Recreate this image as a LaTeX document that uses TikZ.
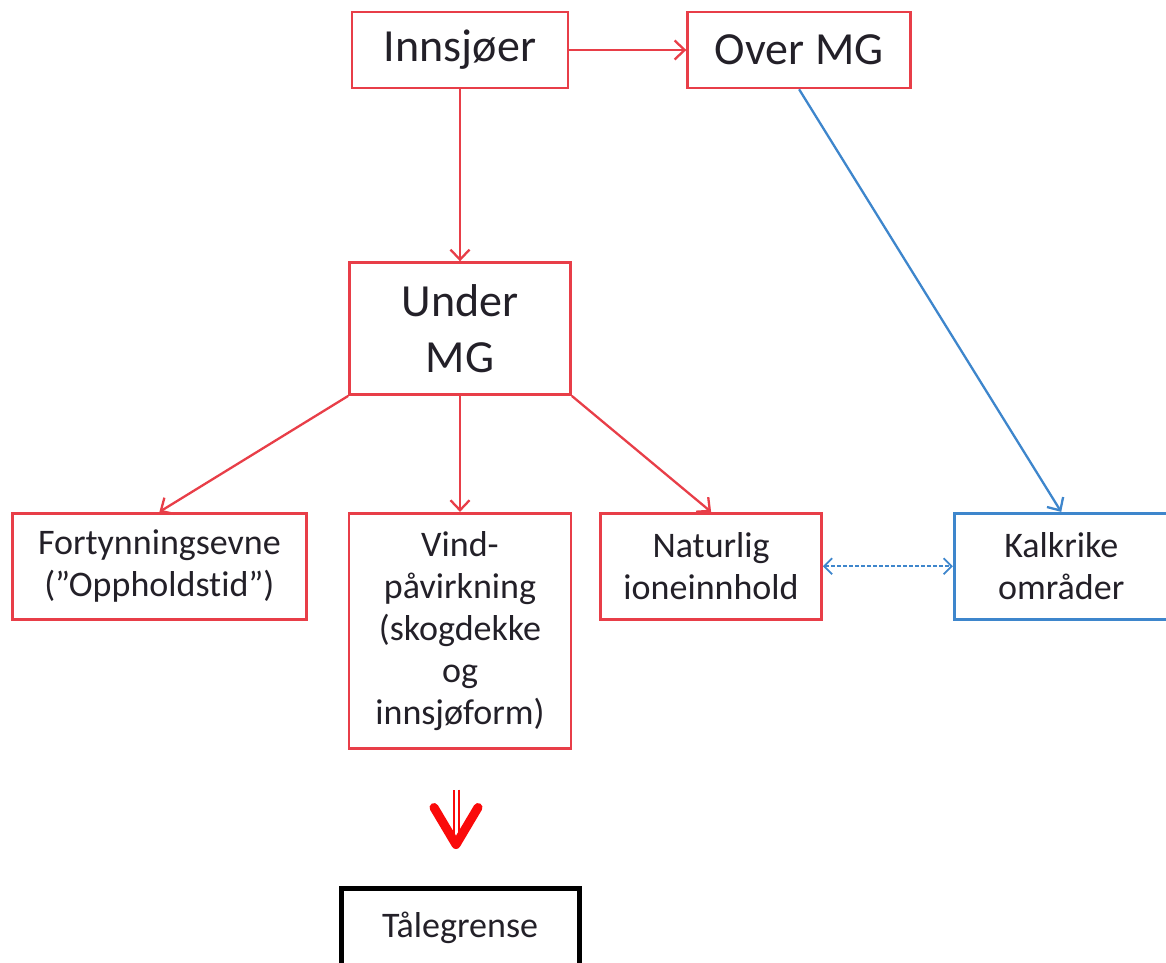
\documentclass[tikz,border=0pt]{standalone}
\usepackage{fontspec}
\setmainfont[Ligatures=NoCommon]{Carlito}
\usepackage{tikz}
\usetikzlibrary{positioning,arrows.meta}
\definecolor{mgred}{RGB}{232,62,72}
\definecolor{mgblue}{RGB}{62,134,204}
\definecolor{arrowred}{RGB}{250,10,10}
\definecolor{inktext}{RGB}{35,32,40}

\begin{document}
\begin{tikzpicture}[x=1pt,y=1pt,
    box/.style={draw,line width=2.6pt,align=center,text=inktext,inner sep=0pt},
    redbox/.style={box,draw=mgred},
    bluebox/.style={box,draw=mgblue},
    resultbox/.style={box,draw=black,line width=5pt},
    bigtext/.style={font=\fontsize{46}{56}\selectfont},
    smalltext/.style={font=\fontsize{36}{42}\selectfont},
    redline/.style={mgred,line width=2.3pt,-{Straight Barb[length=10pt,width=19pt]}},
    blueline/.style={mgblue,line width=2.3pt,-{Straight Barb[length=10pt,width=19pt]}},
    linkline/.style={mgblue,line width=1.8pt,dash pattern=on 4pt off 2pt,{Straight Barb[length=8pt,width=16pt]}-{Straight Barb[length=8pt,width=16pt]}},
    bigshaft/.style={draw=arrowred,line width=2pt,double=white,double distance=3pt},
    bighead/.style={arrowred,line width=9pt,line cap=round,line join=round}]

    \useasboundingbox (0,0) rectangle (1166,-962);

    \node[redbox,bigtext,minimum width=216,minimum height=76] (innsjoer) at (460,-50) {Innsjøer};
    \node[redbox,bigtext,minimum width=223,minimum height=76,right=117pt of innsjoer] (over) {Over MG};
    \node[redbox,bigtext,minimum width=221,minimum height=132,below=172pt of innsjoer] (under) {Under\\MG};

    \node[redbox,smalltext,minimum width=222,minimum height=235,below=116pt of under] (vind) {Vind-\\påvirkning\\(skogdekke\\og\\innsjøform)};
    \node[redbox,smalltext,minimum width=294,minimum height=106,left=40pt of vind.north west,anchor=north east] (fort) {Fortynningsevne\\(”Oppholdstid”)};
    \node[redbox,smalltext,minimum width=221,minimum height=106,right=27pt of vind.north east,anchor=north west] (natur) {Naturlig\\ioneinnhold};
    \node[bluebox,smalltext,minimum width=214,minimum height=106,right=130pt of natur] (kalk) {Kalkrike\\områder};

    \node[resultbox,smalltext,minimum width=238,minimum height=80,below=136pt of vind] (tale) {Tålegrense};

    \draw[redline] (innsjoer) -- (over);
    \draw[redline] (innsjoer) -- (under);
    \draw[blueline] (over.south) -- (kalk.north);
    \draw[redline] (under.south west) -- (fort.north);
    \draw[redline] (under) -- (vind);
    \draw[redline] (under.south east) -- (natur.north);
    \draw[linkline] (natur) -- (kalk);

    \draw[bigshaft] ([xshift=-4pt,yshift=-40pt]vind.south) -- ([xshift=-4pt,yshift=-84pt]vind.south);
    \draw[bighead] ([xshift=-26pt,yshift=-58pt]vind.south) -- ([xshift=-4pt,yshift=-95pt]vind.south) -- ([xshift=18pt,yshift=-58pt]vind.south);

\end{tikzpicture}
\end{document}
